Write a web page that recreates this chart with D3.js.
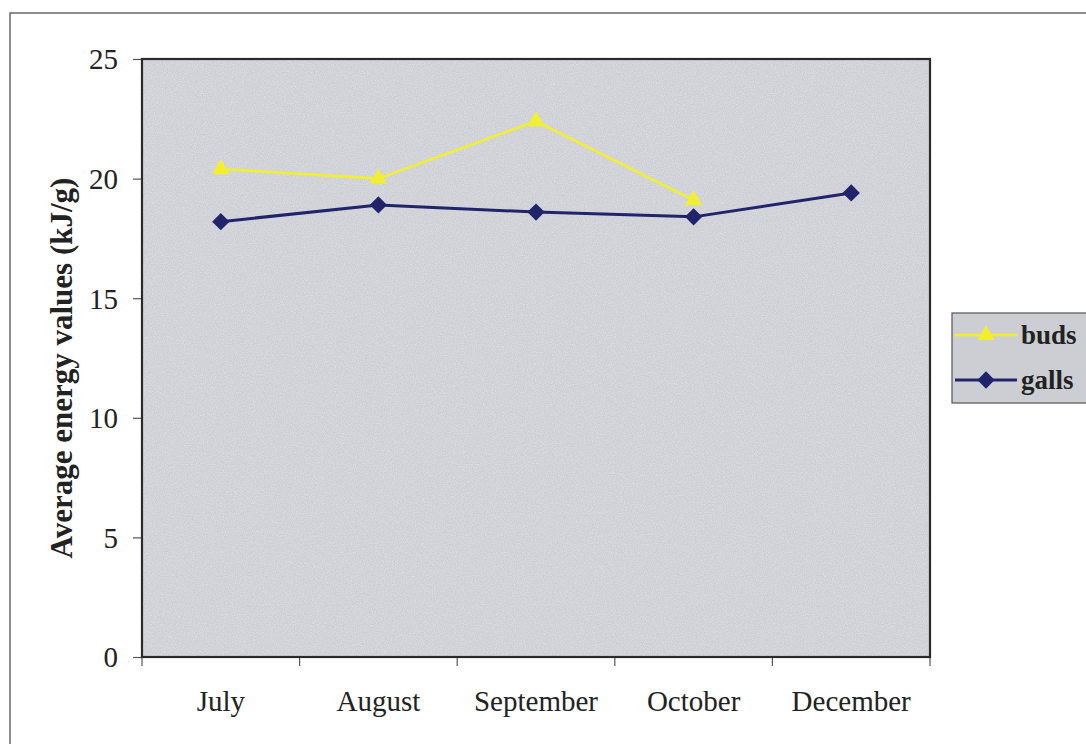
<!DOCTYPE html>
<html>
<head>
<meta charset="utf-8">
<script src="https://cdn.jsdelivr.net/npm/d3@7"></script>
<style>
  html, body { margin: 0; padding: 0; background: #ffffff; }
  svg { display: block; }
</style>
</head>
<body>
<svg id="chart" width="1086" height="744"></svg>
<script>
// Monthly average energy values of buds and galls (kJ/g)
const months = ["July", "August", "September", "October", "December"];
const buds  = [20.4, 20.0, 22.4, 19.1, null];
const galls = [18.2, 18.9, 18.6, 18.4, 19.4];
const yTicks = [0, 5, 10, 15, 20, 25];
const seriesNames = ["buds", "galls"];

const svg = d3.select("#chart");
const plot = { left: 142, right: 930, top: 59, bottom: 657 };
const serif = "'Liberation Serif', 'Times New Roman', serif";
const budsColor = "#f2ef2e";
const gallsColor = "#22246b";

// outer chart frame
svg.append("rect")
  .attr("x", 10).attr("y", 13)
  .attr("width", 1100).attr("height", 760)
  .attr("fill", "#ffffff")
  .attr("stroke", "#6a6a6a").attr("stroke-width", 1.5);

const x = d3.scaleBand().domain(months).range([plot.left, plot.right]);
const y = d3.scaleLinear().domain([0, 25]).range([plot.bottom, plot.top]);

// grainy grey plot background
const defs = svg.append("defs");
const f = defs.append("filter").attr("id", "grain")
  .attr("x", 0).attr("y", 0).attr("width", "100%").attr("height", "100%");
f.append("feTurbulence").attr("type", "fractalNoise")
  .attr("baseFrequency", 0.9).attr("numOctaves", 2).attr("seed", 3).attr("result", "n");
f.append("feColorMatrix").attr("in", "n").attr("type", "matrix")
  .attr("values", "0 0 0 0 1  0 0 0 0 1  0 0 0 0 1  0 0 0 -1.1 0.75").attr("result", "w");
f.append("feComposite").attr("in", "w").attr("in2", "SourceGraphic").attr("operator", "in");

svg.append("rect")
  .attr("x", plot.left).attr("y", plot.top)
  .attr("width", plot.right - plot.left).attr("height", plot.bottom - plot.top)
  .attr("fill", "#ccced4");
svg.append("rect")
  .attr("x", plot.left).attr("y", plot.top)
  .attr("width", plot.right - plot.left).attr("height", plot.bottom - plot.top)
  .attr("fill", "#ccced4").attr("filter", "url(#grain)").attr("opacity", 0.55);

// y axis
const yAxis = svg.append("g")
  .attr("transform", `translate(${plot.left},0)`)
  .call(d3.axisLeft(y).tickValues(yTicks).tickSize(9).tickPadding(15).tickFormat(d3.format("d")));
yAxis.select(".domain").remove();
yAxis.selectAll(".tick line").attr("stroke", "#555").attr("stroke-width", 1.2);
yAxis.selectAll(".tick text")
  .attr("font-family", serif).attr("font-size", 29).attr("fill", "#222")
  .attr("dy", "0.34em");

// x axis: ticks at category boundaries, labels centred in each band
const boundaries = months.map(m => x(m)).concat([plot.right]);
svg.append("g").selectAll("line").data(boundaries).join("line")
  .attr("x1", d => d).attr("x2", d => d)
  .attr("y1", plot.bottom).attr("y2", plot.bottom + 9)
  .attr("stroke", "#555").attr("stroke-width", 1.2);
svg.append("g").selectAll("text").data(months).join("text")
  .attr("x", d => x(d) + x.bandwidth() / 2)
  .attr("y", 711)
  .attr("text-anchor", "middle")
  .attr("font-family", serif).attr("font-size", 29).attr("fill", "#222")
  .text(d => d);

// plot border
svg.append("rect")
  .attr("x", plot.left).attr("y", plot.top)
  .attr("width", plot.right - plot.left).attr("height", plot.bottom - plot.top)
  .attr("fill", "none").attr("stroke", "#2a2a2a").attr("stroke-width", 2.2);

// y axis title
svg.append("text")
  .attr("transform", `translate(72,368) rotate(-90)`)
  .attr("text-anchor", "middle")
  .attr("font-family", serif).attr("font-size", 31).attr("font-weight", "bold").attr("fill", "#222")
  .text("Average energy values (kJ/g)");

const cx = d => x(d) + x.bandwidth() / 2;
const line = d3.line()
  .defined(d => d.v !== null)
  .x(d => cx(d.m)).y(d => y(d.v));

// galls marker: a square turned on its corner; buds marker: a triangle
const diamond = d3.symbol().type(d3.symbolSquare).size(150);
const triangle = d3.symbol().type(d3.symbolTriangle).size(130);

function drawSeries(values, color, width, symbol, rot) {
  const pts = months.map((m, i) => ({ m, v: values[i] }));
  svg.append("path").datum(pts)
    .attr("fill", "none").attr("stroke", color).attr("stroke-width", width)
    .attr("stroke-linejoin", "round")
    .attr("d", line);
  svg.append("g").selectAll("path").data(pts.filter(d => d.v !== null)).join("path")
    .attr("transform", d => `translate(${cx(d.m)},${y(d.v)}) rotate(${rot})`)
    .attr("d", symbol).attr("fill", color);
}
drawSeries(galls, gallsColor, 3, diamond, 45);
drawSeries(buds, budsColor, 2.6, triangle, 0);

// legend
const lg = svg.append("g");
lg.append("rect")
  .attr("x", 952).attr("y", 313).attr("width", 150).attr("height", 90)
  .attr("fill", "#ccced4").attr("stroke", "#555").attr("stroke-width", 1.2);
const legendRows = [
  { name: seriesNames[0], color: budsColor, sym: triangle, rot: 0, w: 2.6, y: 335 },
  { name: seriesNames[1], color: gallsColor, sym: diamond, rot: 45, w: 3, y: 380 }
];
legendRows.forEach(r => {
  lg.append("line").attr("x1", 955).attr("x2", 1017).attr("y1", r.y).attr("y2", r.y)
    .attr("stroke", r.color).attr("stroke-width", r.w);
  lg.append("path").attr("transform", `translate(986,${r.y}) rotate(${r.rot})`).attr("d", r.sym).attr("fill", r.color);
  lg.append("text").attr("x", 1021).attr("y", r.y + 9)
    .attr("font-family", serif).attr("font-size", 27).attr("font-weight", "bold").attr("fill", "#222")
    .text(r.name);
});
</script>
</body>
</html>
